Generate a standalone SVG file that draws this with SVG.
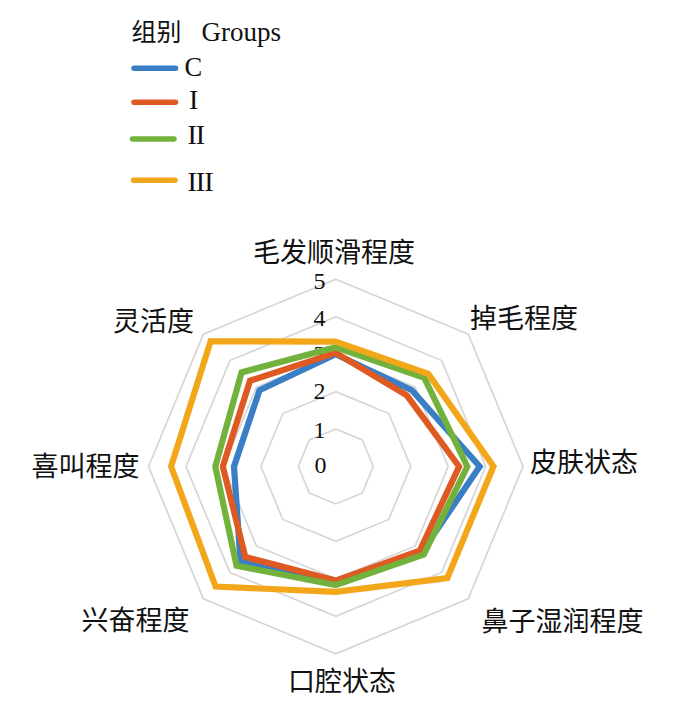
<svg xmlns="http://www.w3.org/2000/svg" width="700" height="714" viewBox="0 0 700 714">
<style>
.grid{fill:none;stroke:#d6d6d6;stroke-width:1.7}
.s{fill:none;stroke-width:6.2;stroke-linejoin:miter}
.lg{stroke-width:5.5;stroke-linecap:round}
.c{stroke:#3a7ec6}.i{stroke:#de5a22}.ii{stroke:#72b23c}.iii{stroke:#f2a71b}
.cjk{font-family:"Noto Sans CJK SC","Noto Sans",sans-serif;font-size:27px;fill:#111}
.lat{font-family:"Liberation Serif","Times New Roman",serif;fill:#111}
.num{font-family:"Liberation Serif","Times New Roman",serif;font-size:24px;fill:#111;text-anchor:middle}
</style>
<rect width="700" height="714" fill="#fff"/>
<g id="legend">
  <g id="legend-title">
    <text class="cjk" x="131.5" y="41" style="font-size:25px">组别</text>
    <text class="lat" x="201.5" y="40.5" style="font-size:27px">Groups</text>
  </g>
  <g id="legend-C"><line class="lg c" x1="134" y1="68.3" x2="175.5" y2="68.3"/><text class="lat" x="184.5" y="76" style="font-size:26.5px">C</text></g>
  <g id="legend-I"><line class="lg i" x1="134" y1="102.3" x2="175.5" y2="102.3"/><text class="lat" x="189" y="109" style="font-size:28px">I</text></g>
  <g id="legend-II"><line class="lg ii" x1="132.5" y1="139" x2="174" y2="139"/><text class="lat" x="187.5" y="144" style="font-size:28px" letter-spacing="-1">II</text></g>
  <g id="legend-III"><line class="lg iii" x1="133.5" y1="180.3" x2="175" y2="180.3"/><text class="lat" x="187.5" y="190.5" style="font-size:28px" letter-spacing="-1">III</text></g>
</g>
<g id="grid">
  <polygon class="grid" points="335.8,429.05 362.28,440.02 373.25,466.5 362.28,492.98 335.8,503.95 309.32,492.98 298.35,466.5 309.32,440.02"/>
  <polygon class="grid" points="335.8,391.6 388.76,413.54 410.7,466.5 388.76,519.46 335.8,541.4 282.84,519.46 260.9,466.5 282.84,413.54"/>
  <polygon class="grid" points="335.8,354.15 415.24,387.06 448.15,466.5 415.24,545.94 335.8,578.85 256.36,545.94 223.45,466.5 256.36,387.06"/>
  <polygon class="grid" points="335.8,316.7 441.72,360.58 485.6,466.5 441.72,572.42 335.8,616.3 229.88,572.42 186,466.5 229.88,360.58"/>
  <polygon class="grid" points="335.8,279.25 468.21,334.09 523.05,466.5 468.21,598.91 335.8,653.75 203.39,598.91 148.55,466.5 203.39,334.09"/>
</g>
<g id="scale">
  <text class="num" x="319.5" y="288.5">5</text>
  <text class="num" x="319.5" y="325.5">4</text>
  <text class="num" x="319.5" y="361.5">3</text>
  <text class="num" x="319.5" y="399">2</text>
  <text class="num" x="319.5" y="438">1</text>
  <text class="num" x="320.5" y="473">0</text>
</g>
<g id="series">
  <polygon id="series-C" class="s c" points="335.7,354.3 411.9,390.3 479.7,466.5 421.6,552.4 335.7,580.6 240.5,561.7 234,466.5 259.5,390.3"/>
  <polygon id="series-I" class="s i" points="335.7,352.8 406.8,395.4 459.1,466.5 419.8,550.6 335.7,580.6 245.3,556.9 222.8,466.5 250,380.8"/>
  <polygon id="series-II" class="s ii" points="335.7,347.2 424.3,377.9 467.3,466.5 423.8,554.6 335.7,585.1 236.5,565.7 215.3,466.5 241.6,372.4"/>
  <polygon id="series-III" class="s iii" points="335.7,341.6 428.3,373.9 493.5,466.5 447.3,578.1 335.7,591.8 215.6,586.6 171.1,466.5 210.6,341.4"/>
</g>
<g id="axis-labels">
  <text class="cjk" x="334" y="261.5" text-anchor="middle">毛发顺滑程度</text>
  <text class="cjk" x="470" y="328">掉毛程度</text>
  <text class="cjk" x="530" y="471.5">皮肤状态</text>
  <text class="cjk" x="481.5" y="631">鼻子湿润程度</text>
  <text class="cjk" x="288" y="691">口腔状态</text>
  <text class="cjk" x="81.5" y="630">兴奋程度</text>
  <text class="cjk" x="31.5" y="476">喜叫程度</text>
  <text class="cjk" x="113" y="331">灵活度</text>
</g>
</svg>
